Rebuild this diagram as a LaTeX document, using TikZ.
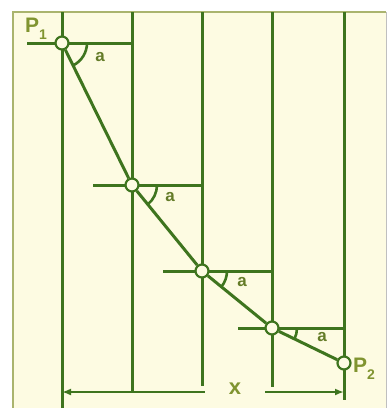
\documentclass[tikz,border=0pt]{standalone}
\usepackage{fontspec}
\setmainfont{Liberation Sans}
\usetikzlibrary{calc,arrows.meta,angles}
\definecolor{paper}{RGB}{253,251,226}
\definecolor{linegreen}{RGB}{62,116,30}
\definecolor{labelgreen}{RGB}{128,148,48}
\definecolor{anglegreen}{RGB}{100,124,40}
\definecolor{rimgreen}{RGB}{170,180,110}
\tikzset{
  grid/.style = {draw = linegreen, line width = 3pt},
  joint/.style = {circle, draw = linegreen, fill = paper, line width = 2.2pt,
    inner sep = 0pt, minimum size = 13pt},
  slope/.style = {draw = linegreen, line width = 2.6pt, angle radius = 25pt},
  lbl/.style = {text = labelgreen, font = \bfseries, inner sep = 0pt},
  alpha/.style = {text = anglegreen, inner sep = 0pt,
    font = \bfseries\fontsize{17}{17}\selectfont}
}
\begin{document}
\begin{tikzpicture}[x = 1pt, y = -1pt]
            \useasboundingbox(0,0)rectangle(391,408);
            % paper
            \path[fill = paper](13,12)rectangle(386,408);
            \path[draw = rimgreen, line width = 1.4pt](13,408)--(13,12)--(386,12);
            \path[draw = black!25, line width = 0.8pt](386,12)to(386,408);
            % verticals
            \coordinate(v1t)at(62,12);  \coordinate(v1b)at(62,408);
            \coordinate(v2t)at(132,12); \coordinate(v2b)at(132,391);
            \coordinate(v3t)at(202,12); \coordinate(v3b)at(202,386);
            \coordinate(v4t)at(272,12); \coordinate(v4b)at(272,387);
            \coordinate(v5t)at(344,12); \coordinate(v5b)at(344,400);
            \foreach \v in {1,...,5}
              \path[grid](v\v t)to(v\v b);
            % horizontals
            \coordinate(h1l)at(27,43);  \coordinate(h1r)at(132,43);
            \coordinate(h2l)at(93,185); \coordinate(h2r)at(202,185);
            \coordinate(h3l)at(163,271);\coordinate(h3r)at(272,271);
            \coordinate(h4l)at(238,328);\coordinate(h4r)at(344,328);
            \foreach \h in {1,...,4}
              \path[grid](h\h l)to(h\h r);
            % points
            \node[joint](p1)at(62,43){};
            \node[joint](p2)at(132,185){};
            \node[joint](p3)at(202,271){};
            \node[joint](p4)at(272,328){};
            \node[joint](p5)at(344,363){};
            % slope
            \path[grid](p1)--(p2)--(p3)--(p4)--(p5);
            % angles
            \coordinate(q1)at(62,43);
            \coordinate(q2)at(132,185);
            \coordinate(q3)at(202,271);
            \coordinate(q4)at(272,328);
            \coordinate(q5)at(344,363);
            \path pic[slope]{angle = q2--q1--h1r};
            \path pic[slope]{angle = q3--q2--h2r};
            \path pic[slope]{angle = q4--q3--h3r};
            \path pic[slope]{angle = q5--q4--h4r};
            \node[alpha](a1)at(100,57){a};
            \node[alpha](a2)at(170,197){a};
            \node[alpha](a3)at(242,282){a};
            \node[alpha](a4)at(322,337){a};
            % end points
            \node[lbl, font = \bfseries\fontsize{21}{21}\selectfont](P1)at(36,29)
              {P\raisebox{-7pt}{\fontsize{14}{14}\selectfont 1}};
            \node[lbl, font = \bfseries\fontsize{21}{21}\selectfont](P2)at(364,369)
              {P\raisebox{-7pt}{\fontsize{14}{14}\selectfont 2}};
            % distance x
            \node[lbl, font = \bfseries\fontsize{22}{22}\selectfont, inner xsep = 24pt](X)at(235,389){x};
            \coordinate(xl)at(62,392);
            \coordinate(xr)at(344,392);
            \path[draw = linegreen, line width = 2.4pt, -{Latex[length = 9pt, width = 7pt]}](X.west|-xl)to(xl);
            \path[draw = linegreen, line width = 2.4pt, -{Latex[length = 9pt, width = 7pt]}](X.east|-xr)to(xr);
        \end{tikzpicture}
\end{document}
